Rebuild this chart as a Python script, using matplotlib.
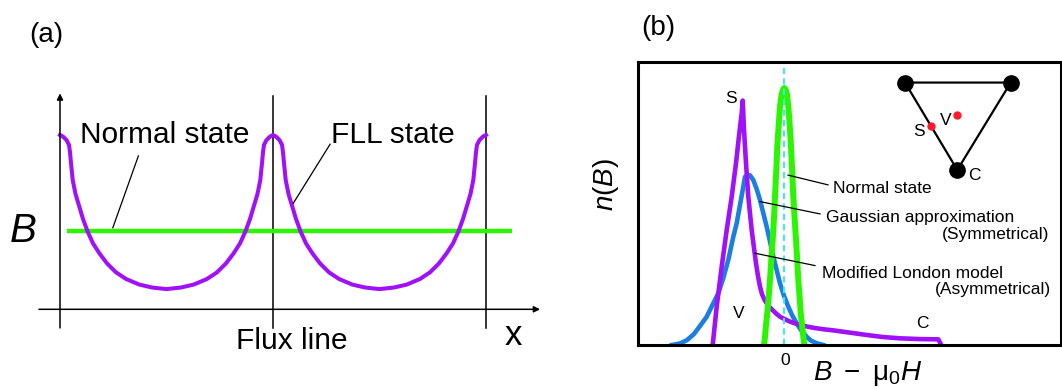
# Flux-line lattice sketch: (a) B(x) profile, (b) field distribution n(B)

import numpy as np
import matplotlib.pyplot as plt

plt.rcParams['font.family'] = ['Liberation Sans', 'DejaVu Sans']
plt.rcParams['mathtext.fontset'] = 'custom'
plt.rcParams['mathtext.rm'] = 'Liberation Sans'
plt.rcParams['mathtext.it'] = 'Liberation Sans:italic'

# ─── PANEL (a) DATA ───────────────────────────────────────────
# x in units of flux-line spacing, B normalised to the peak value
flux_lines = [1, 2]
# half period profile, from flux line (peak) to the midpoint (minimum)
fll_dx = np.array([0.0, 0.0141, 0.0305, 0.0423, 0.0469, 0.0516, 0.0596, 0.0728,
                   0.0906, 0.108, 0.130, 0.155, 0.185, 0.221, 0.263, 0.310,
                   0.372, 0.432, 0.5])
fll_b = np.array([1.0, 0.991, 0.971, 0.943, 0.902, 0.839, 0.742, 0.662,
                  0.589, 0.518, 0.445, 0.378, 0.321, 0.263, 0.212, 0.174,
                  0.142, 0.125, 0.116])
normal_x = [0.034, 2.122]
normal_b = [0.449, 0.449]

# ─── PANEL (b) DATA ───────────────────────────────────────────
# x = B - mu0 H (arb.), y = n(B) normalised to normal-state peak
green_x = [-0.203, -0.193, -0.183, -0.170, -0.156, -0.143, -0.130, -0.116, -0.103,
           -0.093, -0.081, -0.070, -0.056, -0.043, -0.028, -0.013, 0.0,
           0.013, 0.028, 0.040, 0.054, 0.067, 0.079, 0.090, 0.103,
           0.117, 0.129, 0.140, 0.153, 0.164, 0.177, 0.190, 0.200]
green_y = [0.0, 0.032, 0.078, 0.125, 0.187, 0.253, 0.331, 0.409, 0.494,
           0.577, 0.673, 0.772, 0.856, 0.927, 0.973, 0.994, 1.0,
           0.994, 0.973, 0.927, 0.856, 0.772, 0.673, 0.577, 0.494,
           0.409, 0.331, 0.253, 0.187, 0.125, 0.078, 0.032, 0.0]

blue_x = [-1.123, -1.043, -0.973, -0.903, -0.843, -0.776, -0.723, -0.660, -0.613,
          -0.560, -0.513, -0.476, -0.443, -0.416, -0.393, -0.370, -0.343, -0.310,
          -0.273, -0.243, -0.176, -0.110, -0.043, -0.003, 0.040, 0.077, 0.124,
          0.167, 0.224, 0.267, 0.324, 0.390]
blue_y = [0.0, 0.006, 0.019, 0.043, 0.074, 0.110, 0.152, 0.201, 0.257,
          0.331, 0.416, 0.474, 0.545, 0.603, 0.654, 0.661, 0.660, 0.642,
          0.603, 0.564, 0.460, 0.344, 0.240, 0.191, 0.149, 0.117, 0.084,
          0.058, 0.032, 0.017, 0.007, 0.0]

purple_x = [-0.716, -0.676, -0.626, -0.576, -0.526, -0.483, -0.450, -0.426, -0.416,
            -0.403, -0.383, -0.360, -0.326, -0.303, -0.283, -0.263, -0.243, -0.223,
            -0.200, -0.176, -0.148, -0.118, -0.083, -0.043, 0.007, 0.057, 0.107,
            0.157, 0.237, 0.307, 0.397, 0.490, 0.657, 0.824, 0.987, 1.157, 1.357,
            1.540, 1.564]
purple_y = [0.0, 0.149, 0.305, 0.447, 0.577, 0.707, 0.824, 0.902, 0.951,
            0.837, 0.707, 0.577, 0.447, 0.377, 0.318, 0.268, 0.227, 0.198,
            0.177, 0.162, 0.148, 0.136, 0.123, 0.110, 0.100, 0.091, 0.084,
            0.078, 0.071, 0.066, 0.061, 0.057, 0.048, 0.039, 0.031, 0.026, 0.023,
            0.022, 0.004]

# inset triangle (vertices) and the S / V points
tri_x = [1.207, 2.264, 1.730]
tri_y = [1.021, 1.021, 0.681]
sv_x = [1.467, 1.727]
sv_y = [0.853, 0.895]

PURPLE = '#a010f8'
GREEN = '#2bf500'
BLUE = '#1a7fe0'
CYAN = '#40e8f5'

W, H = 1062, 388
fig = plt.figure(figsize=(W / 100, H / 100), dpi=100)

# ─── PANEL (a) ────────────────────────────────────────────────
ax = fig.add_axes([0, 0, 560 / W, 1])
ax.set_xlim(-0.2817, 2.3474)
ax.set_ylim(-0.4515, 1.7745)
ax.axis('off')

# full FLL curve: half-period profile mirrored and repeated for two periods
seg_x = np.concatenate([fll_dx, 1 - fll_dx[::-1]])
seg_b = np.concatenate([fll_b, fll_b[::-1]])
curve_x = np.concatenate([seg_x, 1 + seg_x])
curve_b = np.concatenate([seg_b, seg_b])

ax.annotate('', xy=(0, 1.239), xytext=(0, -0.107),
            arrowprops=dict(arrowstyle='-|>', color='black', lw=1.1,
                            mutation_scale=9, shrinkA=0, shrinkB=0))
ax.annotate('', xy=(2.254, 0), xytext=(-0.099, 0),
            arrowprops=dict(arrowstyle='-|>', color='black', lw=1.1,
                            mutation_scale=9, shrinkA=0, shrinkB=0))
for xf in flux_lines:
    ax.plot([xf, xf], [-0.107, 1.224], color='black', lw=1.1)

ax.plot(normal_x, normal_b, color=GREEN, lw=3.2, solid_capstyle='butt')
ax.plot(curve_x, curve_b, color=PURPLE, lw=2.9, solid_joinstyle='round')

ax.plot([0.368, 0.248], [0.880, 0.468], color='black', lw=0.9)
ax.plot([1.268, 1.095], [0.947, 0.608], color='black', lw=0.9)

ax.text(0.094, 0.952, 'Normal state', fontsize=21.5, va='baseline', ha='left')
ax.text(1.271, 0.952, 'FLL state', fontsize=21.5, va='baseline', ha='left')
ax.text(-0.174, 0.388, 'B', fontsize=29, style='italic', va='baseline', ha='center')
ax.text(1.089, -0.229, 'Flux line', fontsize=21.5, va='baseline', ha='center')
ax.text(2.127, -0.205, 'x', fontsize=25, va='baseline', ha='center')
ax.text(-0.066, 1.574, '(a)', fontsize=20, va='center', ha='center')

# ─── PANEL (b) ────────────────────────────────────────────────
bx = fig.add_axes([638 / W, 1 - 345 / H, (1061 - 638) / W, (345 - 62) / H])
bx.set_xlim(-1.463, 2.767)
bx.set_ylim(0, 1.101)
bx.set_xticks([])
bx.set_yticks([])
for sp in bx.spines.values():
    sp.set_linewidth(2.2)

bx.plot(blue_x, blue_y, color=BLUE, lw=3.3, solid_joinstyle='round')
bx.plot(purple_x, purple_y, color=PURPLE, lw=3.3, solid_joinstyle='round')
bx.plot(green_x, green_y, color=GREEN, lw=4.3, solid_joinstyle='round')
bx.plot([0, 0], [0, 1.101], color=CYAN, lw=1.5, ls=(0, (3, 2)))

# inset triangle
bx.plot(tri_x + tri_x[:1], tri_y + tri_y[:1], color='black', lw=1.6)
bx.plot(tri_x, tri_y, 'o', color='black', ms=11)
bx.plot(sv_x, sv_y, 'o', color='#ff1a2a', ms=5)
bx.text(1.29, 0.813, 'S', fontsize=12.5, va='baseline')
bx.text(1.557, 0.856, 'V', fontsize=12.5, va='baseline')
bx.text(1.84, 0.642, 'C', fontsize=12.5, va='baseline')

# curve labels
bx.text(-0.593, 0.940, 'S', fontsize=12.5, va='baseline')
bx.text(-0.516, 0.106, 'V', fontsize=12.5, va='baseline')
bx.text(1.314, 0.067, 'C', fontsize=12.5, va='baseline')

# leader lines and descriptions
bx.plot([0.037, 0.437], [0.661, 0.623], color='black', lw=0.9)
bx.plot([-0.243, 0.357], [0.558, 0.510], color='black', lw=0.9)
bx.plot([-0.293, 0.307], [0.357, 0.309], color='black', lw=0.9)
bx.text(0.486, 0.590, 'Normal state', fontsize=12.5, va='baseline')
bx.text(0.417, 0.480, 'Gaussian approximation', fontsize=12.5, va='baseline')
bx.text(2.647, 0.412, '(Symmetrical)', fontsize=12.5, va='baseline', ha='right')
bx.text(0.377, 0.262, 'Modified London model', fontsize=12.5, va='baseline')
bx.text(2.667, 0.197, '(Asymmetrical)', fontsize=12.5, va='baseline', ha='right')

# axis labels drawn as text to match placement
bx.text(0.007, -0.078, '0', fontsize=12.5, va='baseline', ha='center')
bx.text(0.832, -0.136, r'$B\ -\ \mathrm{\mu}_0H$', fontsize=20, va='baseline', ha='center')
bx.text(-1.783, 0.623, r'$n(B)$', fontsize=20, rotation=90, va='center', ha='center')
fig.text(658 / W, 1 - 28 / H, '(b)', fontsize=20, va='center', ha='center')

fig.savefig('out.png', dpi=100)
